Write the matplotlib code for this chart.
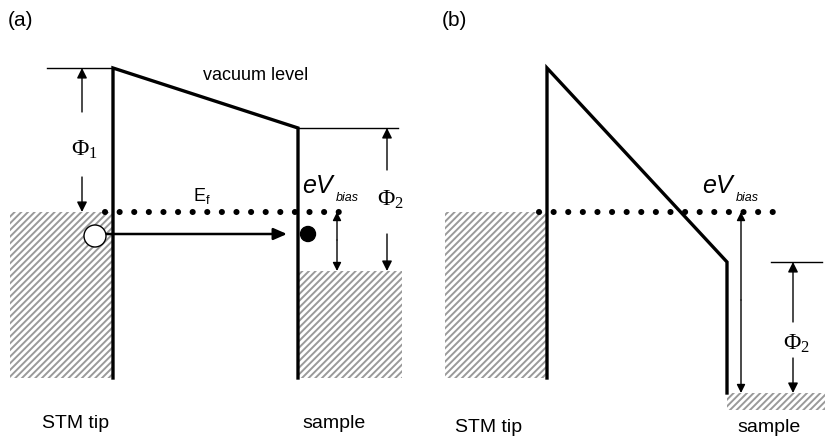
import matplotlib.pyplot as plt
from matplotlib.patches import Rectangle, Circle

plt.rcParams['font.family'] = ['Liberation Sans', 'DejaVu Sans']
plt.rcParams['mathtext.fontset'] = 'custom'
plt.rcParams['mathtext.rm'] = 'Liberation Serif'
plt.rcParams['mathtext.it'] = 'Liberation Sans:italic'
plt.rcParams['hatch.color'] = '#9a9a9a'
plt.rcParams['hatch.linewidth'] = 1.4

# panel (a): tip barrier, sloped vacuum level, sample barrier (pixel units)
a_barrier_x = [113, 113, 298, 298]
a_barrier_y = [378, 68, 128, 378]
a_vac_left = ([47, 113], [68, 68])
a_vac_right = ([298, 398], [128, 128])
a_fermi = ([105, 341], [212, 212])
a_tip_fill = (10, 212, 103, 166)
a_sample_fill = (298, 271, 104, 107)

# panel (b)
b_barrier_x = [547, 547, 727, 727]
b_barrier_y = [378, 68, 262, 393]
b_vac_right = ([771, 822], [262, 262])
b_fermi = ([539, 775], [212, 212])
b_tip_fill = (445, 212, 102, 166)
b_sample_fill = (727, 393, 98, 17)

fig = plt.figure(figsize=(8.25, 4.38), dpi=100)
ax = fig.add_axes([0, 0, 1, 1])
ax.set_xlim(0, 825)
ax.set_ylim(438, 0)
ax.axis('off')

for x, y, w, h in [a_tip_fill, a_sample_fill, b_tip_fill, b_sample_fill]:
    ax.add_patch(Rectangle((x, y), w, h, fill=False, hatch='/////', lw=0,
                           edgecolor='#9a9a9a'))

thick = 2.4
thin = 1.0
ax.plot(a_barrier_x, a_barrier_y, color='k', lw=thick, solid_joinstyle='miter')
ax.plot(*a_vac_left, color='k', lw=thin)
ax.plot(*a_vac_right, color='k', lw=thin)
ax.plot(b_barrier_x, b_barrier_y, color='k', lw=thick, solid_joinstyle='miter')
ax.plot(*b_vac_right, color='k', lw=thin)

for xs, ys in [a_fermi, b_fermi]:
    ax.plot(xs, ys, color='k', lw=4.4, linestyle=(0, (0.01, 2.38)),
            dash_capstyle='round', zorder=4)


def arrow(x0, y0, x1, y1, lw=1.0, hw=0.3, hl=0.6):
    ax.annotate('', xy=(x1, y1), xytext=(x0, y0),
                arrowprops=dict(arrowstyle=f'-|>,head_width={hw},head_length={hl}',
                                color='k', lw=lw, shrinkA=0, shrinkB=0))


# (a) annotations
arrow(82, 112, 82, 68)
arrow(82, 177, 82, 212)
ax.text(84, 150, r'$\Phi_{\mathit{1}}$', ha='center', va='center', fontsize=17)
ax.text(202, 196, 'E$_\\mathregular{f}$', ha='center', va='center', fontsize=13)
ax.text(256, 76, 'vacuum level', ha='center', va='center', fontsize=13)
ax.add_patch(Circle((95, 236), 11, facecolor='white', edgecolor='k', lw=1.0, zorder=5))
ax.add_patch(Circle((308, 234), 7.5, facecolor='k', edgecolor='k', zorder=5))
arrow(105, 234, 287, 234, lw=1.8, hw=0.35, hl=0.8)
arrow(337, 240, 337, 212, hw=0.25, hl=0.5)
arrow(337, 240, 337, 271, hw=0.25, hl=0.5)
ax.text(302, 186, '$\\mathit{eV}$', ha='left', va='center', fontsize=18)
ax.text(336, 198, 'bias', ha='left', va='center', fontsize=9, style='italic')
arrow(387, 170, 387, 128)
arrow(387, 234, 387, 271)
ax.text(390, 200, r'$\Phi_{\mathit{2}}$', ha='center', va='center', fontsize=17)
ax.text(8, 21, '(a)', ha='left', va='center', fontsize=15)
ax.text(42, 423, 'STM tip', ha='left', va='center', fontsize=14)
ax.text(302, 423, 'sample', ha='left', va='center', fontsize=14)

# (b) annotations
arrow(741, 300, 741, 212, hw=0.25, hl=0.5)
arrow(741, 300, 741, 393, hw=0.25, hl=0.5)
ax.text(702, 186, '$\\mathit{eV}$', ha='left', va='center', fontsize=18)
ax.text(736, 198, 'bias', ha='left', va='center', fontsize=9, style='italic')
arrow(793, 322, 793, 262)
arrow(793, 358, 793, 393)
ax.text(796, 344, r'$\Phi_2$', ha='center', va='center', fontsize=17)
ax.text(442, 21, '(b)', ha='left', va='center', fontsize=15)
ax.text(455, 428, 'STM tip', ha='left', va='center', fontsize=14)
ax.text(737, 428, 'sample', ha='left', va='center', fontsize=14)

fig.savefig('out.png', dpi=100)
